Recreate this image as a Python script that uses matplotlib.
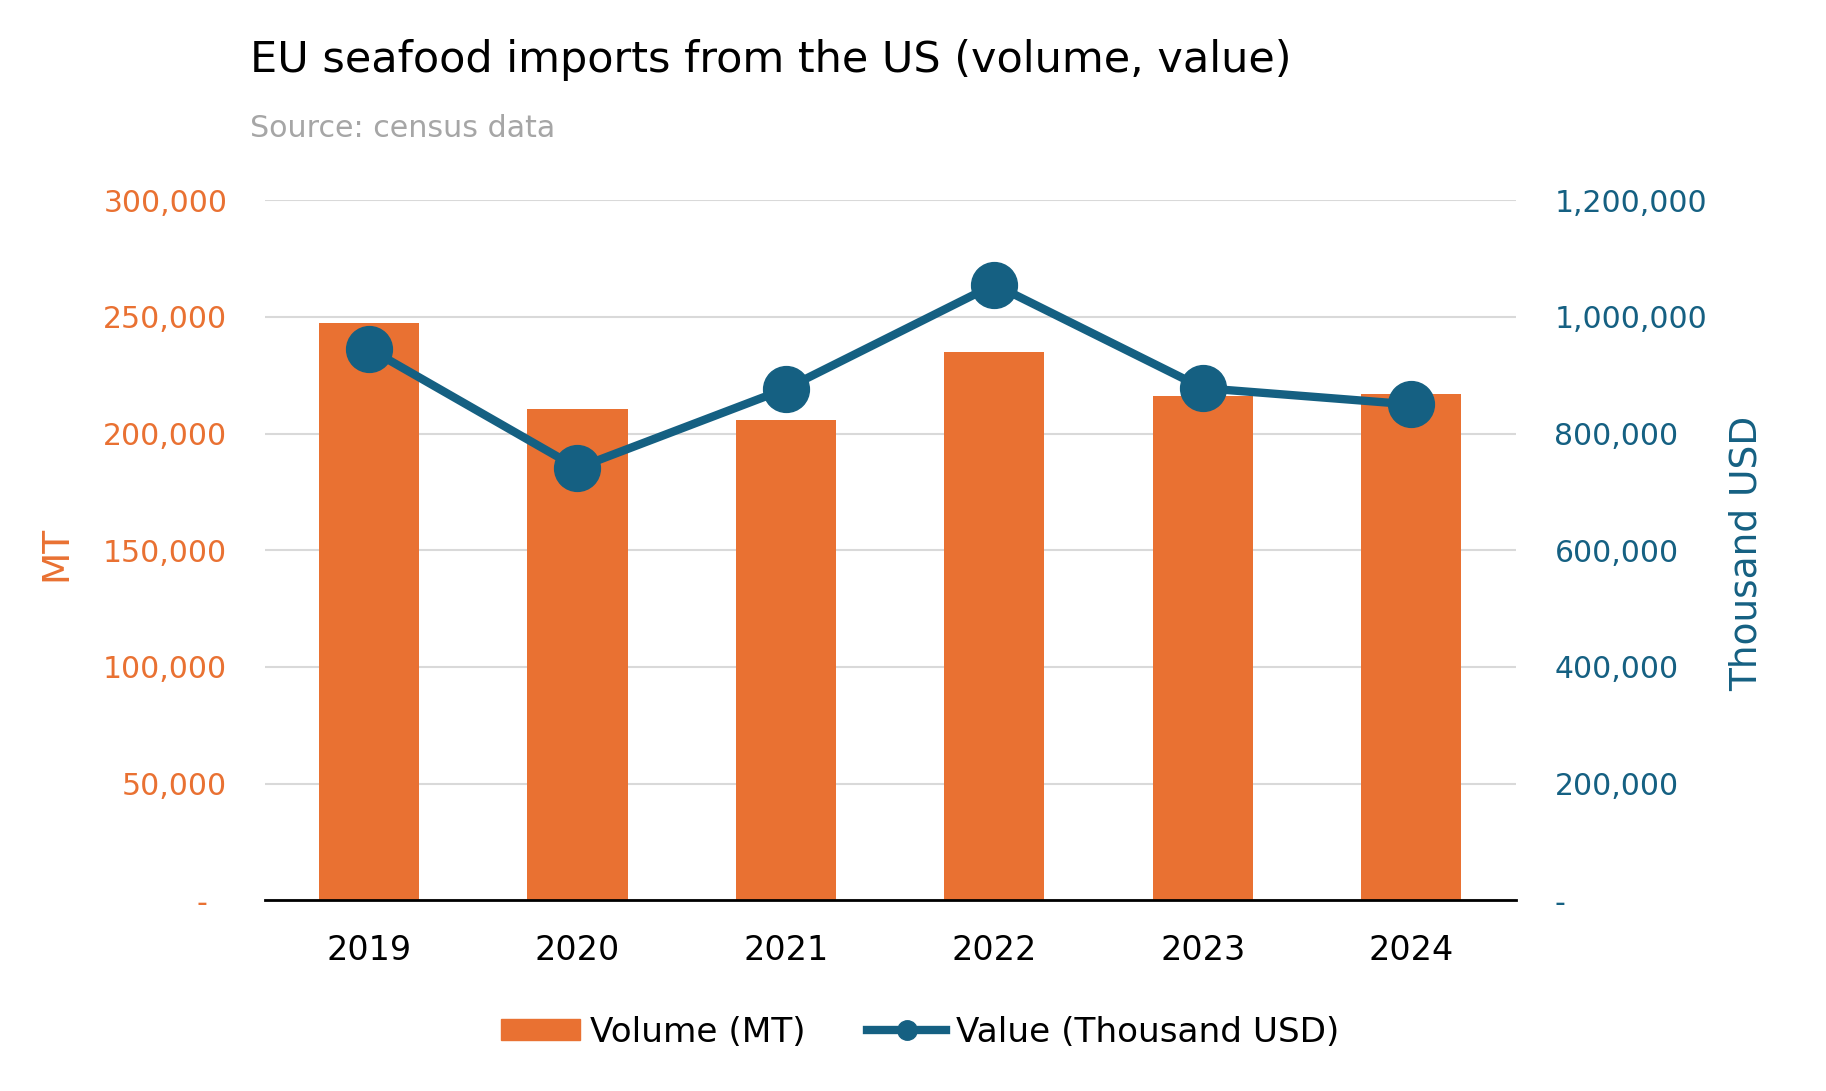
import matplotlib.pyplot as plt
from matplotlib.ticker import FuncFormatter
from matplotlib.lines import Line2D
from matplotlib.patches import Patch

years = ['2019', '2020', '2021', '2022', '2023', '2024']
volume_mt = [247300, 210600, 206000, 234800, 216200, 217000]
value_kusd = [945700, 741000, 877000, 1055600, 878000, 850000]

orange = '#E97132'
blue = '#156082'

plt.rcParams['font.family'] = ['DejaVu Sans']

fig = plt.figure(figsize=(18.26, 10.91), dpi=100)
ax = fig.add_axes([0.145, 0.1748, 0.685, 0.6416])
ax2 = ax.twinx()

x = range(len(years))
ax.bar(x, volume_mt, width=0.48, color=orange, zorder=2)
ax2.plot(x, value_kusd, color=blue, lw=6, marker='o', markersize=33, zorder=3)

ax.set_xlim(-0.5, 5.5)
ax.set_ylim(0, 300000)
ax2.set_ylim(0, 1200000)
ax.set_yticks(range(0, 300001, 50000))
ax2.set_yticks(range(0, 1200001, 200000))

def fmt(v, pos):
    if v == 0:
        return '-  '
    return '{:,.0f}'.format(v)

ax.yaxis.set_major_formatter(FuncFormatter(fmt))
ax2.yaxis.set_major_formatter(FuncFormatter(lambda v, p: '-' if v == 0 else '{:,.0f}'.format(v)))

ax.set_xticks(list(x))
ax.set_xticklabels(years)
ax.tick_params(axis='x', length=0, pad=24, labelsize=24, labelcolor='black')
ax.tick_params(axis='y', length=0, pad=27, labelsize=21.5, labelcolor=orange)
ax2.tick_params(axis='y', length=0, pad=28, labelsize=21.5, labelcolor=blue)

ax.grid(axis='y', color='#D9D9D9', lw=1.5, zorder=0)
ax.set_axisbelow(True)
for a in (ax, ax2):
    for s in ['top', 'left', 'right', 'bottom']:
        a.spines[s].set_visible(False)
ax.spines['bottom'].set_visible(True)
ax.spines['bottom'].set_color('black')
ax.spines['bottom'].set_linewidth(2)
ax.spines['bottom'].set_zorder(4)

fig.text(56 / 1826, 1 - 553 / 1091, 'MT', rotation=90, color=orange, fontsize=27,
         ha='center', va='center')
fig.text(1747 / 1826, 1 - 553 / 1091, 'Thousand USD', rotation=90, color=blue, fontsize=27,
         ha='center', va='center')

fig.text(250 / 1826, 1 - 72 / 1091, 'EU seafood imports from the US (volume, value)',
         fontsize=31, color='black', ha='left', va='baseline')
fig.text(250 / 1826, 1 - 137 / 1091, 'Source: census data',
         fontsize=21.7, color='#A6A6A6', ha='left', va='baseline')

handles = [Patch(color=orange, label='Volume (MT)'),
           Line2D([], [], color=blue, lw=6, marker='o', markersize=14, label='Value (Thousand USD)')]
fig.legend(handles=handles, loc='center', bbox_to_anchor=(0.504, 0.054), ncol=2, frameon=False,
           fontsize=24.7, handlelength=2.3, handleheight=0.6, columnspacing=1.8, handletextpad=0.3)

fig.savefig('out.png', dpi=100)
